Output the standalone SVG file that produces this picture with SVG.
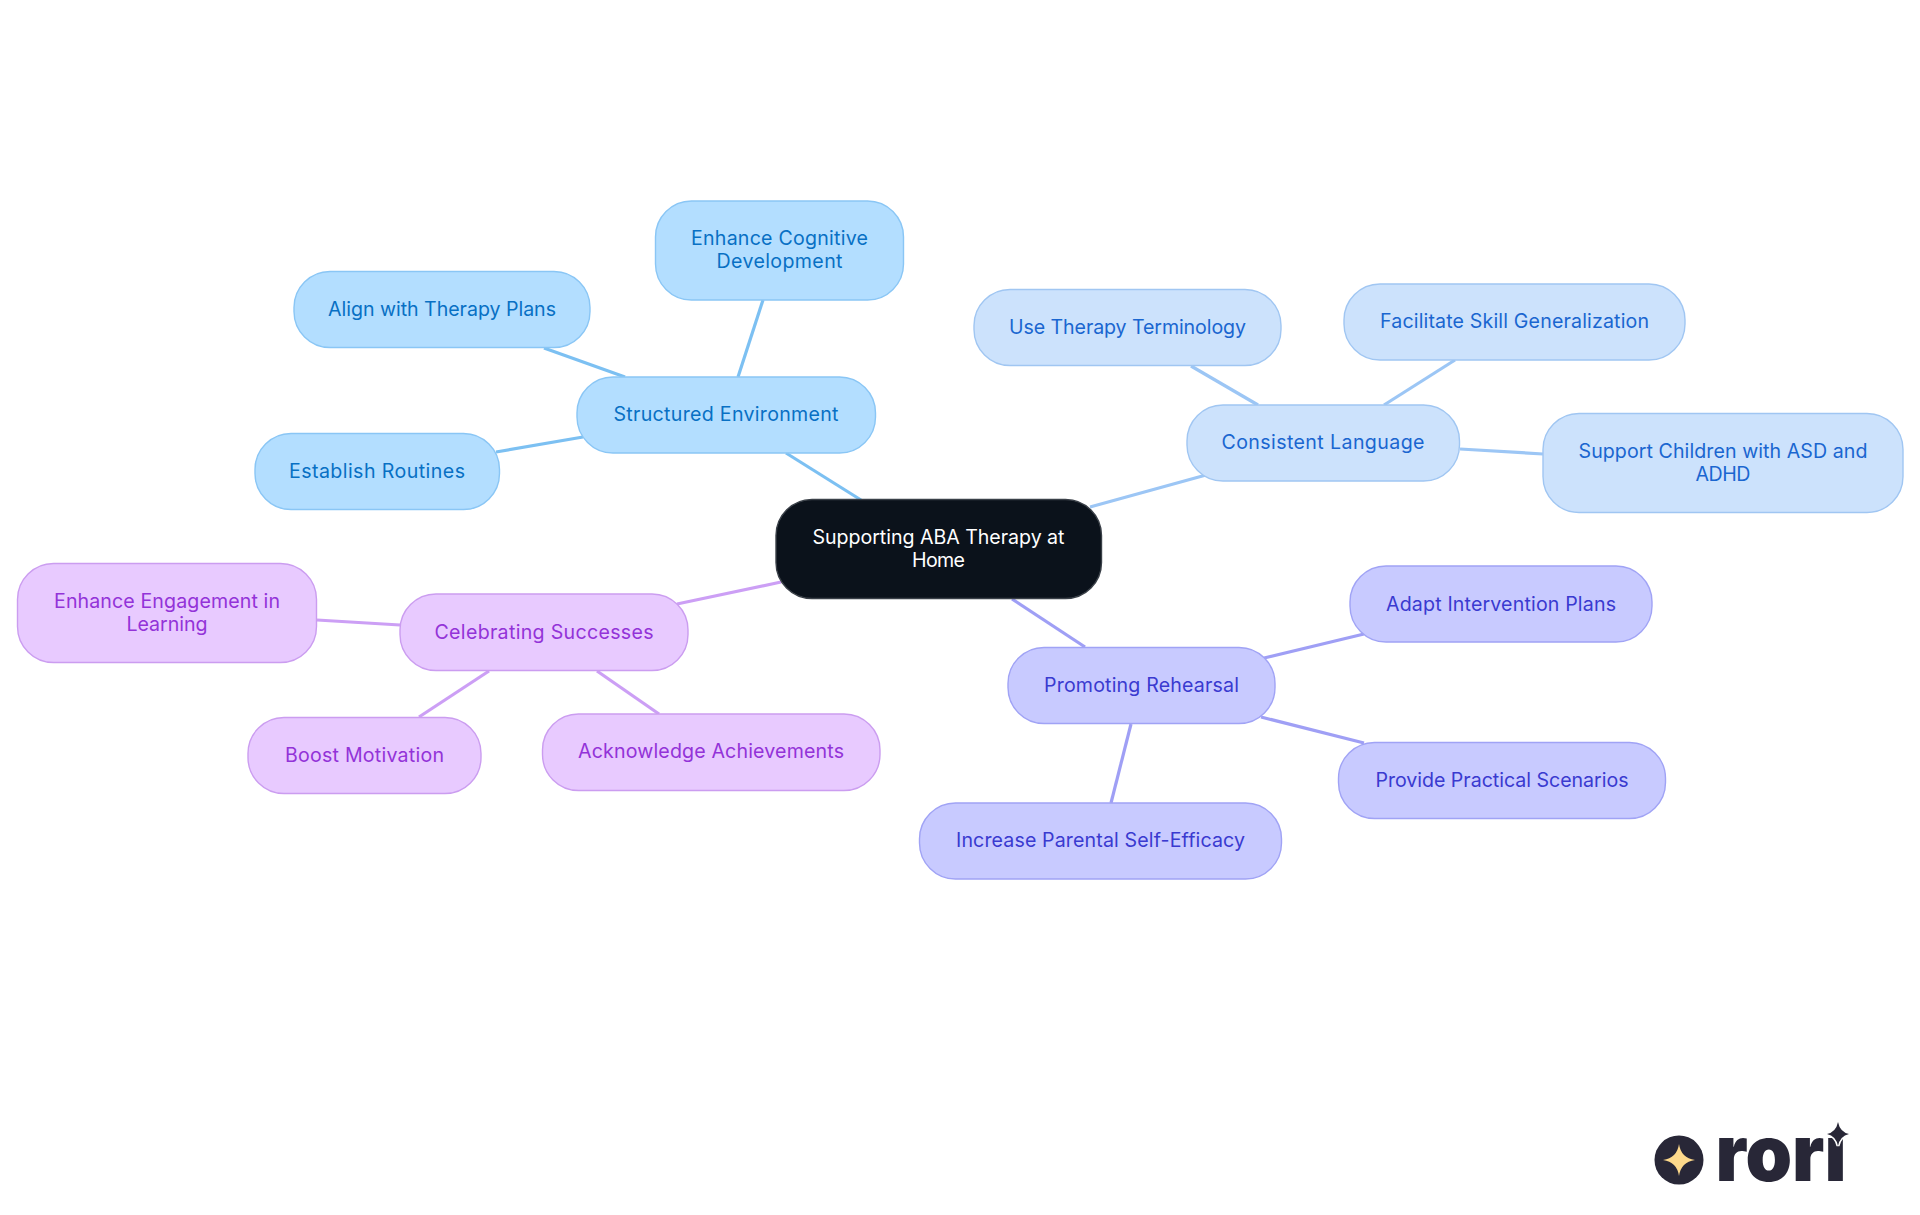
<svg xmlns="http://www.w3.org/2000/svg" width="1920" height="1215" viewBox="0 0 1920 1215">
<style>
text{font-family:Inter,"Noto Sans","Liberation Sans",sans-serif;font-size:19.6px;font-weight:400;text-anchor:middle;dominant-baseline:central}
.e{stroke-width:3.2;fill:none}
.n{stroke-width:1.4}
.a rect{fill:#b3deff;stroke:#8ac6f5}.a text{fill:#0870c4}
.b rect{fill:#cce2fc;stroke:#a0c6f2}.b text{fill:#1a66d0}
.c rect{fill:#c8caff;stroke:#a0a3f5}.c text{fill:#3a3ad0}
.d rect{fill:#e8caff;stroke:#cb9df0}.d text{fill:#9333d8}
.ea{stroke:#7cc0f2}.eb{stroke:#9cc6f5}.ec{stroke:#9f9ff5}.ed{stroke:#cc9ff5}
.r rect{fill:#0b121b;stroke:#3a4048}.r text{fill:#fff}
.logo{fill:#282737}
</style>
<rect width="1920" height="1215" fill="#fff"/>
<g id="connectors">
<line class="e ea" x1="786" y1="453" x2="861" y2="500"/>
<line class="e eb" x1="1090" y1="507" x2="1206" y2="475"/>
<line class="e ec" x1="1012" y1="599" x2="1085" y2="647"/>
<line class="e ed" x1="781" y1="582" x2="677" y2="604"/>
<line class="e ea" x1="738" y1="377" x2="763" y2="300"/>
<line class="e ea" x1="625" y1="377" x2="544" y2="348"/>
<line class="e ea" x1="583" y1="437" x2="496" y2="452"/>
<line class="e eb" x1="1258" y1="405" x2="1191" y2="366"/>
<line class="e eb" x1="1384" y1="405" x2="1455" y2="360"/>
<line class="e eb" x1="1460" y1="449" x2="1543" y2="454"/>
<line class="e ec" x1="1264" y1="658" x2="1364" y2="634"/>
<line class="e ec" x1="1261" y1="717" x2="1364" y2="743"/>
<line class="e ec" x1="1131" y1="724" x2="1111" y2="803"/>
<line class="e ed" x1="400" y1="625" x2="317" y2="620"/>
<line class="e ed" x1="489" y1="671" x2="419" y2="717"/>
<line class="e ed" x1="597" y1="671" x2="659" y2="714"/>
</g>
<g id="root" class="r"><rect class="n" x="776" y="499.5" width="325.5" height="99" rx="36"/><text x="938.5" y="536.5" textLength="252">Supporting ABA Therapy at</text><text x="938.5" y="559.5" textLength="53">Home</text></g>
<g id="structured" class="a"><rect class="n" x="577" y="377" width="298.5" height="76" rx="36"/><text x="726" y="414" textLength="225">Structured Environment</text></g>
<g id="cognitive" class="a"><rect class="n" x="655.500" y="201" width="248" height="99" rx="36"/><text x="779.500" y="238" textLength="177">Enhance Cognitive</text><text x="779.500" y="261" textLength="126">Development</text></g>
<g id="align" class="a"><rect class="n" x="294" y="271.500" width="296" height="76" rx="36"/><text x="442" y="309" textLength="228">Align with Therapy Plans</text></g>
<g id="routines" class="a"><rect class="n" x="255" y="433.500" width="244.500" height="76" rx="36"/><text x="377" y="471" textLength="176">Establish Routines</text></g>
<g id="consistent" class="b"><rect class="n" x="1187" y="405" width="272.500" height="76" rx="36"/><text x="1323" y="442" textLength="203">Consistent Language</text></g>
<g id="terminology" class="b"><rect class="n" x="974" y="289.500" width="307" height="76" rx="36"/><text x="1127.500" y="327" textLength="237">Use Therapy Terminology</text></g>
<g id="generalization" class="b"><rect class="n" x="1344" y="284" width="341" height="76" rx="36"/><text x="1514.500" y="321" textLength="269">Facilitate Skill Generalization</text></g>
<g id="support" class="b"><rect class="n" x="1543" y="413.500" width="360" height="99" rx="36"/><text x="1723" y="451" textLength="289">Support Children with ASD and</text><text x="1723" y="474" textLength="55">ADHD</text></g>
<g id="rehearsal" class="c"><rect class="n" x="1008" y="647.500" width="267" height="76" rx="36"/><text x="1141.500" y="685" textLength="195">Promoting Rehearsal</text></g>
<g id="adapt" class="c"><rect class="n" x="1350" y="566" width="302" height="76" rx="36"/><text x="1501" y="604" textLength="230">Adapt Intervention Plans</text></g>
<g id="scenarios" class="c"><rect class="n" x="1338.500" y="742.500" width="327" height="76" rx="36"/><text x="1502" y="780" textLength="253">Provide Practical Scenarios</text></g>
<g id="efficacy" class="c"><rect class="n" x="919.500" y="803" width="362" height="76" rx="36"/><text x="1100.500" y="840" textLength="289">Increase Parental Self-Efficacy</text></g>
<g id="celebrating" class="d"><rect class="n" x="400" y="594" width="288" height="76.500" rx="36"/><text x="544" y="632" textLength="219">Celebrating Successes</text></g>
<g id="engagement" class="d"><rect class="n" x="17.500" y="563.500" width="299" height="99" rx="36"/><text x="167" y="601" textLength="226">Enhance Engagement in</text><text x="167" y="624" textLength="81">Learning</text></g>
<g id="motivation" class="d"><rect class="n" x="248" y="717.500" width="233" height="76" rx="36"/><text x="364.500" y="755" textLength="159">Boost Motivation</text></g>
<g id="achievements" class="d"><rect class="n" x="542.500" y="714" width="337.500" height="76.500" rx="36"/><text x="711" y="751" textLength="266">Acknowledge Achievements</text></g>
<g id="logo">
<circle class="logo" cx="1679" cy="1160" r="24.500"/>
<path fill="#fdd98b" d="M1679 1144Q1681 1158 1695 1160Q1681 1162 1679 1176Q1677 1162 1663 1160Q1677 1158 1679 1144Z"/>
<text x="1781" y="1181" textLength="131" lengthAdjust="spacingAndGlyphs" style="font-size:78px;font-weight:900;fill:#282737;dominant-baseline:alphabetic">rori</text>
<rect x="1825" y="1114" width="26" height="23" fill="#fff"/>
<path class="logo" stroke="#fff" stroke-width="3" paint-order="stroke" d="M1838 1122Q1840 1132 1849 1134Q1840 1136 1838 1146Q1836 1136 1827 1134Q1836 1132 1838 1122Z"/>
</g>
</svg>
